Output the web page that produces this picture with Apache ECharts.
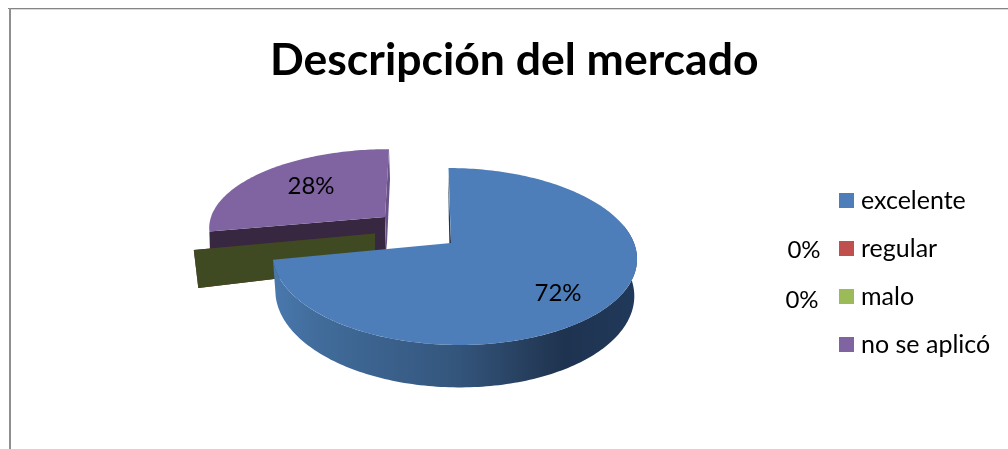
<!DOCTYPE html>
<html><head><meta charset="utf-8">
<style>html,body{margin:0;padding:0;background:#fff}#c{width:1008px;height:449px}</style>
<script src="https://cdn.jsdelivr.net/npm/echarts@6/dist/echarts.min.js"></script>
</head><body><div id="c"></div>
<script>
var categories = ['excelente', 'regular', 'malo', 'no se aplicó'];
var values = [72, 0, 0, 28];
var chartTitle = 'Descripción del mercado';
var colors = ['#4d7eb9', '#c0504d', '#9bbb59', '#8064a2'];

// Drawing setup per slice (exploded offset and perspective), kept apart from the data.
var layouts = [
  {ax:451, ay:243, cx:454, R:180, Ry:86.4, k:0.1525, skew:5.5, T:36, shrink:0.985, label:[558,293]},
  {ax:375, ay:233.5, cx:375, R:181, Ry:86, k:0.1, skew:0, T:39, shrink:1.02, label:[804,250]},
  {ax:375, ay:233.5, cx:375, R:181, Ry:86, k:0.1, skew:0, T:39, shrink:1.02, label:[802,300]},
  {ax:385, ay:217, cx:385, R:174, Ry:76, k:0.12, skew:-4, T:36, shrink:1, label:[311,186]}
];
var zOrder = [4, 2, 3, 1];
var total = values.reduce(function (a, b) { return a + b; }, 0);
var starts = [];
values.reduce(function (acc, v, i) { starts[i] = acc; return acc + v; }, 0);

function project(l, theta, depth) {
  var u = Math.sin(theta), v = -Math.cos(theta), s = 1 / (1 - l.k * v);
  var x = l.cx + l.R * u * s + l.skew * v;
  var y = l.ay + l.Ry * v * s;
  if (depth) { x = l.cx + (x - l.cx) * l.shrink; y += l.T * s; }
  return [x, y];
}
function arc(l, a, b, depth) {
  var pts = [], n = Math.max(2, Math.ceil(Math.abs(b - a) / 0.02));
  for (var i = 0; i <= n; i++) pts.push(project(l, a + (b - a) * i / n, depth));
  return pts;
}
function darkGradient() {
  return new echarts.graphic.LinearGradient(0, 0, 1, 0, [
    {offset: 0, color: '#4a79ae'}, {offset: 0.12, color: '#416c9b'},
    {offset: 0.5, color: '#34567d'}, {offset: 0.72, color: '#253c5a'},
    {offset: 0.8, color: '#1e3350'}, {offset: 1, color: '#21395a'}
  ]);
}
function sliceRender(idx) {
  return function (params, api) {
    var val = api.value(0), l = layouts[idx];
    var a0 = starts[idx] / total * 2 * Math.PI, a1 = a0 + val / total * 2 * Math.PI;
    var kids = [];
    var apex = [l.ax, l.ay];
    var pct = Math.round(val / total * 100) + '%';
    if (val === 0) {
      // a zero slice shows only its cut face
      var tip = project(l, a0), tipB = [tip[0] + 4.5, tip[1] + 38];
      kids.push({type: 'polygon', shape: {points: [apex, tip, tipB, [l.ax, tip[1] + 38 - (tip[1] - l.ay) * 1.28]]},
        style: {fill: idx === 2 ? '#3f4a22' : '#5f2a28'}});
    } else if (idx === 0) {
      var wallA = 1.36, front = arc(l, wallA, a1), back = arc(l, wallA, a1, true).reverse();
      kids.push({type: 'polygon', shape: {points: front.concat(back)}, style: {fill: darkGradient()}});
      var top0 = project(l, a0);
      kids.push({type: 'polygon', shape: {points: [[top0[0] - 0.3, top0[1] + 6], apex, [l.ax - 1.5, l.ay + 6], [l.ax - 2.2, l.ay - 25]]}, style: {fill: '#1f3551'}});
      kids.push({type: 'polygon', shape: {points: [apex].concat(arc(l, a0, a1))}, style: {fill: colors[idx]}});
    } else {
      var tipP = project(l, a0), endP = project(l, a1);
      kids.push({type: 'polygon', shape: {points: [tipP, apex, [l.ax + 1, l.ay + 36], [tipP[0] + 1, tipP[1] + 36]]}, style: {fill: '#372741'}});
      kids.push({type: 'polygon', shape: {points: [endP, [endP[0] + 1, endP[1] + 30], [l.ax + 1.5, l.ay + 36], apex]}, style: {fill: '#6a5289'}});
      kids.push({type: 'polygon', shape: {points: [apex].concat(arc(l, a0, a1))}, style: {fill: colors[idx]}});
    }
    kids.push({type: 'text', z2: 100, style: {x: l.label[0], y: l.label[1], text: pct, fill: '#000',
      font: '24px Lato', align: 'center', verticalAlign: 'middle'}});
    return {type: 'group', children: kids};
  };
}
var chart = echarts.init(document.getElementById('c'), null, {renderer: 'canvas'});
chart.setOption({
  animation: false,
  backgroundColor: '#fff',
  title: {text: chartTitle, left: 270, top: 38, padding: 0,
    textStyle: {fontFamily: 'Lato', fontWeight: 'bold', fontSize: 44.5, color: '#000'}},
  legend: {orient: 'vertical', left: 839, top: 188, padding: 0, itemWidth: 15, itemHeight: 15, itemGap: 23,
    icon: 'rect', data: categories, selectedMode: false,
    textStyle: {fontFamily: 'Lato', fontSize: 25, color: '#000', padding: [0, 0, 0, 2]}},
  graphic: [
    {type: 'rect', shape: {x: 8, y: 8, width: 1000, height: 1}, style: {fill: '#858585'}},
    {type: 'rect', shape: {x: 9, y: 9, width: 999, height: 1}, style: {fill: '#d9d9d9'}},
    {type: 'rect', shape: {x: 9, y: 8, width: 2, height: 441}, style: {fill: '#8f8f8f'}}
  ],
  series: categories.map(function (name, i) {
    return {type: 'custom', name: name, coordinateSystem: 'none', z: zOrder[i], silent: true,
      itemStyle: {color: colors[i]}, renderItem: sliceRender(i), data: [[values[i]]]};
  })
});
</script></body></html>
